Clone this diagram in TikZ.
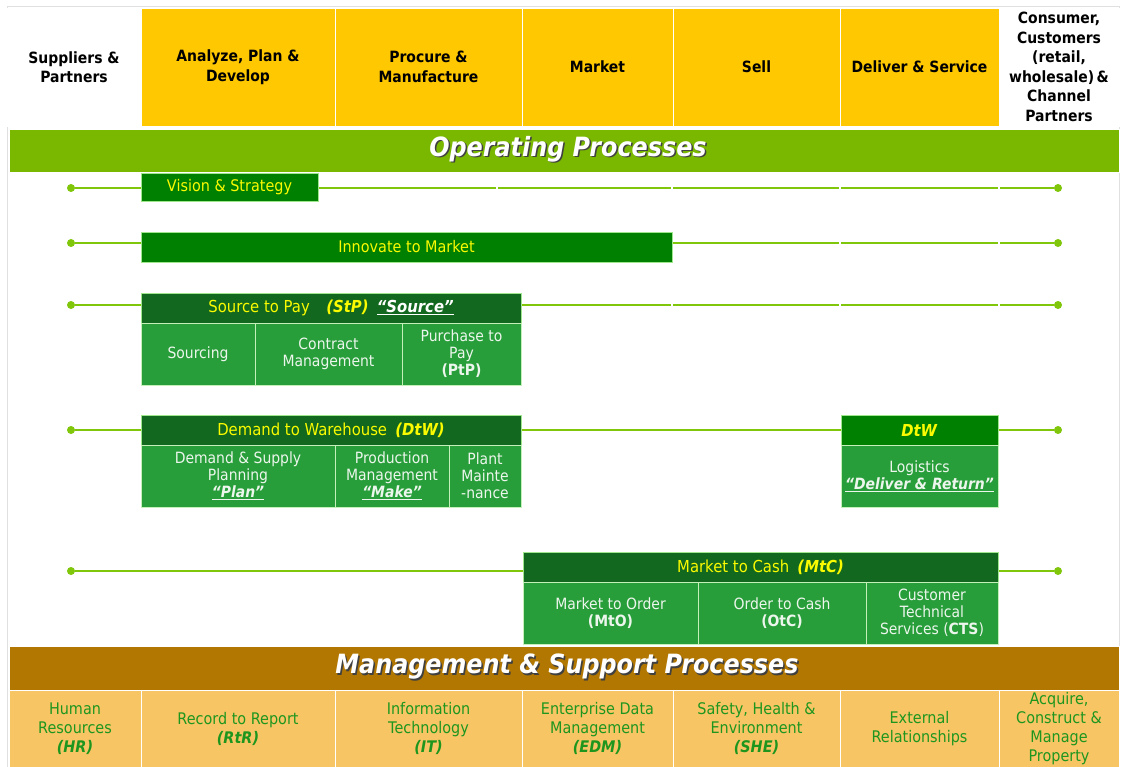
\documentclass[tikz,border=0pt]{standalone}
\usepackage{fontspec}
\setmainfont{DejaVu Sans}[FakeStretch=0.9]
\definecolor{hyellow}{RGB}{255,200,0}
\definecolor{opgreen}{RGB}{122,184,0}
\definecolor{vgreen}{RGB}{0,128,0}
\definecolor{hgreen}{RGB}{18,104,30}
\definecolor{sgreen}{RGB}{40,158,58}
\definecolor{lgreen}{RGB}{128,198,10}
\definecolor{edgegreen}{RGB}{160,230,140}
\definecolor{brown}{RGB}{178,119,0}
\definecolor{lorange}{RGB}{248,197,101}
\definecolor{btext}{RGB}{30,150,30}
\definecolor{ytext}{RGB}{250,250,0}
\definecolor{wtext}{RGB}{236,246,236}
\newcommand{\cellbox}[7]{%
  \node[#6, minimum width={(#4-#2)*1pt}, minimum height={(#5-#3)*1pt}] (#1) at ({(#2+#4)/2},{(#3+#5)/2}) {#7};}
\tikzset{
  cellbase/.style={inner sep=0pt, align=center, draw=white, line width=0.9pt},
  colhdr/.style={cellbase, fill=hyellow, text=black, font=\bfseries\fontsize{15.5}{19.5}\selectfont},
  colwhite/.style={cellbase, fill=white, text=black, font=\bfseries\fontsize{15.5}{19.5}\selectfont},
  topbox/.style={cellbase, draw=edgegreen, fill=vgreen, text=ytext, font=\fontsize{16}{18}\selectfont},
  grphdr/.style={cellbase, draw=edgegreen, fill=hgreen, text=ytext, font=\fontsize{16.5}{19}\selectfont},
  subbox/.style={cellbase, draw=edgegreen!60!white, fill=sgreen, text=wtext, font=\fontsize{15.5}{17}\selectfont},
  bar/.style={cellbase},
  titletext/.style={inner sep=0pt, text=white, font=\bfseries\itshape\fontsize{26.5}{30}\selectfont},
  support/.style={cellbase, fill=lorange, text=btext, font=\fontsize{16}{19}\selectfont},
  conn/.style={draw=lgreen, line width=2.4pt},
  gap/.style={draw=white, line width=1.6pt},
  enddot/.style={circle, fill=lgreen, inner sep=0pt, minimum size=8pt}
}
\begin{document}
\begin{tikzpicture}[x=1pt,y=-1pt]
\useasboundingbox (0,0) rectangle (1121,767);
\fill[white] (0,0) rectangle (1121,767);
\draw[black!12, line width=0.8pt] (7,6) rectangle (1119,768);
% column headers
\cellbox{sup}{7}{8}{141}{126}{colwhite}{Suppliers \&\\Partners}
\cellbox{ana}{141}{8}{335}{126}{colhdr}{Analyze, Plan \&\\Develop}
\cellbox{pro}{335}{8}{522}{126}{colhdr}{Procure \&\\Manufacture}
\cellbox{mkt}{522}{8}{673}{126}{colhdr}{Market}
\cellbox{sel}{673}{8}{840}{126}{colhdr}{Sell}
\cellbox{del}{840}{8}{999}{126}{colhdr}{Deliver \& Service}
\cellbox{con}{999}{8}{1119}{126}{colwhite}{Consumer,\\Customers\\(retail,\\wholesale)\,\&\\Channel\\Partners}
% operating bar
\cellbox{op}{9}{129}{1119}{172}{bar, fill=opgreen}{}
\node[titletext, text=black!75] at (569.5,150.5) {Operating Processes};
\node[titletext] (optext) at (568,149) {Operating Processes};
% connector lines
\foreach \n/\y in {1/188,2/243,3/305,4/430,5/571}{
  \node[enddot] (l\n) at (71,\y) {};
  \node[enddot] (r\n) at (1058,\y) {};
  \draw[conn] (l\n) -- (r\n);
}
% small breaks in the connector lines at column boundaries
\foreach \x/\y in {497/188,672/188,840/188,999/188,840/243,999/243,672/305,840/305,999/305}{
  \draw[gap] (\x,\y-3) -- (\x,\y+3);
}
% row 1, 2
\cellbox{vis}{141}{173}{318}{201}{topbox}{Vision \& Strategy}
\cellbox{inn}{141}{232}{672}{262}{topbox}{Innovate to Market}
% Source to Pay
\cellbox{stp}{141}{293}{521}{323}{grphdr}{Source to Pay\quad\textbf{\textit{(StP)}}\enspace{\color{white}\textbf{\textit{\underline{“Source”}}}}}
\cellbox{src}{141}{323}{255}{385}{subbox}{Sourcing}
\cellbox{cm}{255}{323}{402}{385}{subbox}{Contract\\Management}
\cellbox{ptp}{402}{323}{521}{385}{subbox}{Purchase to\\Pay\\\textbf{(PtP)}}
% Demand to Warehouse
\cellbox{dtw}{141}{415}{521}{445}{grphdr}{Demand to Warehouse\enspace\textbf{\textit{(DtW)}}}
\cellbox{dsp}{141}{445}{335}{507}{subbox}{Demand \& Supply\\Planning\\\textbf{\textit{\underline{“Plan”}}}}
\cellbox{pm}{335}{445}{449}{507}{subbox}{Production\\Management\\\textbf{\textit{\underline{“Make”}}}}
\cellbox{plm}{449}{445}{521}{507}{subbox}{Plant\\Mainte\\-nance}
\cellbox{dtwb}{841}{415}{998}{445}{grphdr, fill=vgreen}{\textbf{\textit{DtW}}}
\cellbox{log}{841}{445}{998}{507}{subbox}{Logistics\\\textbf{\textit{\underline{“Deliver \& Return”}}}}
% Market to Cash
\cellbox{mtc}{523}{552}{998}{582}{grphdr}{Market to Cash\enspace\textbf{\textit{(MtC)}}}
\cellbox{mto}{523}{582}{698}{644}{subbox}{Market to Order\\\textbf{(MtO)}}
\cellbox{otc}{698}{582}{866}{644}{subbox}{Order to Cash\\\textbf{(OtC)}}
\cellbox{cts}{866}{582}{998}{644}{subbox}{Customer\\Technical\\Services (\textbf{CTS})}
% management bar
\cellbox{ms}{9}{646}{1119}{690}{bar, fill=brown}{}
\node[titletext, text=black!75] at (568.5,668.5) {Management \& Support Processes};
\node[titletext] (mstext) at (567,667) {Management \& Support Processes};
% support cells
\cellbox{hr}{9}{690}{141}{767}{support}{Human\\Resources\\\textbf{\textit{(HR)}}}
\cellbox{rtr}{141}{690}{335}{767}{support}{Record to Report\\\textbf{\textit{(RtR)}}}
\cellbox{it}{335}{690}{522}{767}{support}{Information\\Technology\\\textbf{\textit{(IT)}}}
\cellbox{edm}{522}{690}{673}{767}{support}{Enterprise Data\\Management\\\textbf{\textit{(EDM)}}}
\cellbox{she}{673}{690}{840}{767}{support}{Safety, Health \&\\Environment\\\textbf{\textit{(SHE)}}}
\cellbox{ext}{840}{690}{999}{767}{support}{External\\Relationships}
\cellbox{acq}{999}{690}{1119}{767}{support}{Acquire,\\Construct \&\\Manage\\Property}
\end{tikzpicture}
\end{document}
